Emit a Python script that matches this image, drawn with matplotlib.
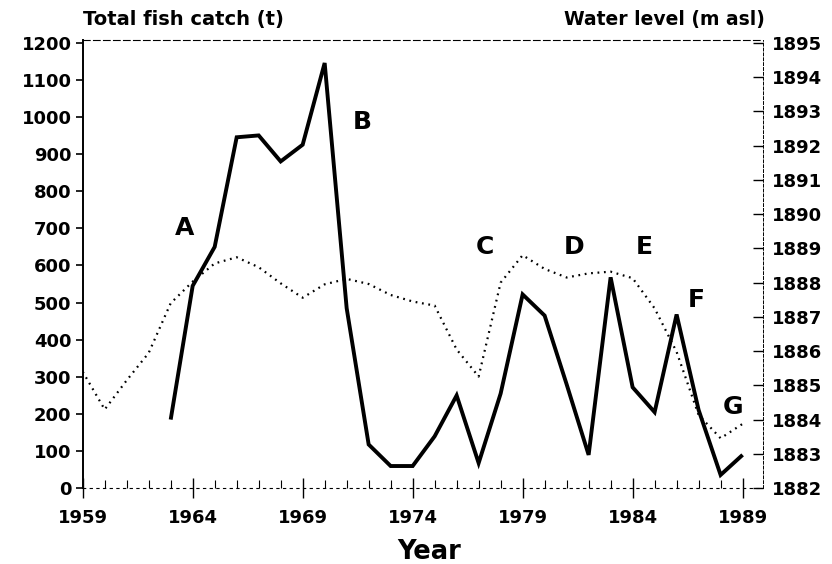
import matplotlib
matplotlib.use('agg')
import matplotlib.pyplot as plt
import matplotlib.ticker as plticker

# data
catch_years = list(range(1963, 1990))
catch_t = [185, 545, 650, 945, 950, 880, 925, 1145, 485, 118, 60, 60, 140,
           250, 68, 255, 522, 465, 280, 90, 568, 272, 205, 468, 211, 36, 90]

level_years = list(range(1959, 1990))
level_m = [1885.40, 1884.30, 1885.15, 1885.95, 1887.40, 1888.03, 1888.56,
           1888.74, 1888.45, 1887.98, 1887.56, 1887.95, 1888.11, 1887.96,
           1887.64, 1887.45, 1887.33, 1886.05, 1885.26, 1888.00, 1888.80,
           1888.40, 1888.15, 1888.27, 1888.32, 1888.13, 1887.25, 1885.98,
           1884.14, 1883.46, 1883.88]

catch_ticks = list(range(0, 1201, 100))
level_ticks = list(range(1882, 1896))
year_ticks = list(range(1959, 1990, 5))

# period labels (text annotations)
period_labels = ['A', 'B', 'C', 'D', 'E', 'F', 'G']
label_x = [1963.65, 1971.70, 1977.29, 1981.33, 1984.53, 1986.88, 1988.56]
label_y = [700, 986, 649, 649, 649, 507, 219]

plt.rcParams['font.family'] = 'DejaVu Sans'
plt.rcParams['font.weight'] = 'bold'

fig = plt.figure(figsize=(8.32, 5.64), dpi=100)
ax = fig.add_axes([0.0994, 0.1342, 0.818, 0.7956])
ax2 = ax.twinx()

# water level (dotted) on right axis
ax2.plot(level_years, level_m, color='black', linewidth=1.6,
         linestyle=(0, (0.8, 2.1)), dash_capstyle='butt')
# fish catch (solid) on left axis
ax.plot(catch_years, catch_t, color='black', linewidth=2.8,
        solid_joinstyle='miter', solid_capstyle='butt')
ax.set_zorder(ax2.get_zorder() + 1)
ax.patch.set_visible(False)

for lab, lx, ly in zip(period_labels, label_x, label_y):
    ax.text(lx, ly, lab, ha='center', va='center', fontsize=18)

ax.set_xlim(1959, 1989.94)
ax.set_ylim(0, 1208)
ax2.set_ylim(1882, 1895.09)

ax.set_yticks(catch_ticks)
ax2.set_yticks(level_ticks)
ax.set_xticks(year_ticks)
ax.xaxis.set_minor_locator(plticker.MultipleLocator(1))

ax.tick_params(axis='y', direction='out', length=5, width=1.2, pad=3,
               labelsize=13)
ax.tick_params(axis='x', which='major', direction='inout', length=14,
               width=1.0, pad=8, labelsize=13)
ax.tick_params(axis='x', which='minor', direction='in', length=6, width=0.8)
ax2.tick_params(axis='y', direction='in', length=7, width=1.0, pad=6,
                labelsize=13)

# spines: solid left axis, faint broken lines elsewhere
for s in ['top', 'bottom', 'left']:
    ax2.spines[s].set_visible(False)
ax.spines['right'].set_visible(False)
ax.spines['left'].set_linewidth(1.4)
ax.spines['top'].set_linewidth(0.8)
ax.spines['top'].set_linestyle((0, (6, 3)))
ax.spines['bottom'].set_linewidth(0.8)
ax.spines['bottom'].set_linestyle((0, (2, 4)))
ax2.spines['right'].set_linewidth(0.7)
ax2.spines['right'].set_linestyle((0, (3, 2)))

fig.text(0.0994, 1 - 20 / 564, 'Total fish catch (t)', ha='left',
         va='center', fontsize=14)
fig.text(765 / 832, 1 - 20 / 564, 'Water level (m asl)', ha='right',
         va='center', fontsize=13.5)
fig.text(429 / 832, 1 - 559 / 564, 'Year', ha='center', va='baseline',
         fontsize=18.5)

plt.savefig('out.png', dpi=100)
plt.close(fig)
